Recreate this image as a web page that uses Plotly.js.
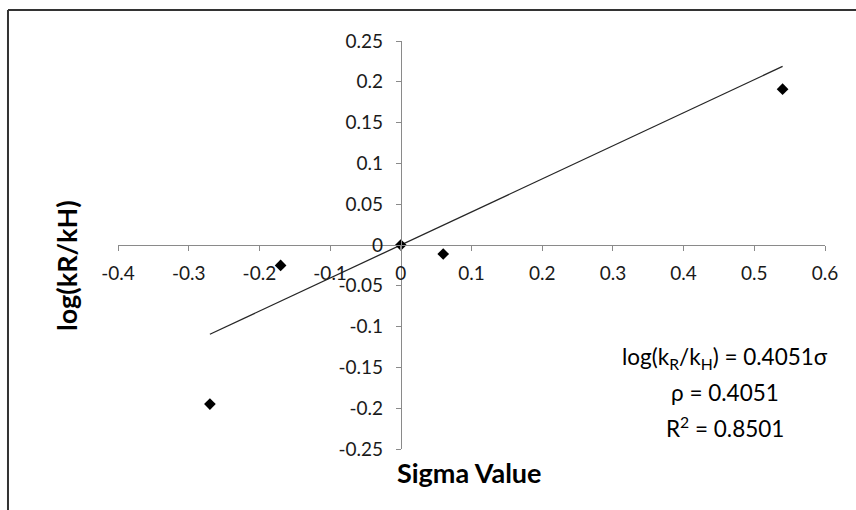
<!DOCTYPE html>
<html>
<head>
<meta charset="utf-8">
<script src="https://cdn.plot.ly/plotly-3.0.1.min.js"></script>
<style>
  html, body { margin: 0; padding: 0; background: #fff; }
  #chart { width: 856px; height: 510px; }
</style>
</head>
<body>
<div id="chart"></div>
<script>
// Data
const sigmaValues = [-0.27, -0.17, 0, 0.06, 0.54];
const logRatios   = [-0.195, -0.025, 0, -0.011, 0.191];

// Linear trendline (log(kR/kH) = 0.4051 sigma), drawn between its end points
const trendX = [-0.27, 0.54];
const trendY = [-0.1094, 0.2188];

// Tick values and labels
const xTickVals = [-0.4, -0.3, -0.2, -0.1, 0, 0.1, 0.2, 0.3, 0.4, 0.5, 0.6];
const xTickText = ["-0.4", "-0.3", "-0.2", "-0.1", "0", "0.1", "0.2", "0.3", "0.4", "0.5", "0.6"];
const yTickVals = [-0.25, -0.2, -0.15, -0.1, -0.05, 0, 0.05, 0.1, 0.15, 0.2, 0.25];
const yTickText = ["-0.25", "-0.2", "-0.15", "-0.1", "-0.05", "0", "0.05", "0.1", "0.15", "0.2", "0.25"];

// Texts
const xTitle = "Sigma Value";
const yTitle = "log(kR/kH)";
const eqLines = [
  "log(k<sub>R</sub>/k<sub>H</sub>) = 0.4051σ",
  "ρ = 0.4051",
  "R<sup>2</sup> = 0.8501"
];

const FONT = "Lato, 'Open Sans', sans-serif";
const AXIS_COLOR = "#8a8a8a";

const traces = [
  {
    x: trendX, y: trendY, type: "scatter", mode: "lines",
    line: { color: "#262626", width: 1.3 }, hoverinfo: "skip", showlegend: false
  },
  {
    x: sigmaValues, y: logRatios, type: "scatter", mode: "markers",
    marker: { symbol: "diamond", size: 9, color: "#000" }, showlegend: false
  }
];

const axisCommon = {
  showgrid: false, zeroline: false, showline: true,
  linecolor: AXIS_COLOR, linewidth: 1,
  ticks: "outside", ticklen: 5, tickcolor: AXIS_COLOR, tickwidth: 1,
  tickfont: { family: FONT, size: 19, color: "#1a1a1a" },
  tickmode: "array", fixedrange: true
};

const layout = {
  width: 856, height: 510,
  margin: { l: 118, r: 31, t: 41, b: 61 },
  paper_bgcolor: "#fff", plot_bgcolor: "#fff",
  showlegend: false,
  xaxis: Object.assign({}, axisCommon, {
    range: [-0.4, 0.6], tickvals: xTickVals, ticktext: xTickText,
    anchor: "free", position: 0.5, domain: [0, 1], ticklabelstandoff: 6
  }),
  yaxis: Object.assign({}, axisCommon, {
    range: [-0.25, 0.25], tickvals: yTickVals, ticktext: yTickText,
    anchor: "free", position: 0.4, domain: [0, 1], ticklabelstandoff: 9
  }),
  annotations: [
    { xref: "paper", yref: "paper", x: 0.4965, y: -0.0588, text: "<b>" + xTitle + "</b>",
      showarrow: false, xanchor: "center", yanchor: "middle",
      font: { family: FONT, size: 27, color: "#000" } },
    { xref: "paper", yref: "paper", x: -0.0735, y: 0.4485, text: "<b>" + yTitle + "</b>",
      showarrow: false, xanchor: "center", yanchor: "middle", textangle: -90,
      font: { family: FONT, size: 27, color: "#000" } },
    { xref: "x", yref: "y", x: 0.458, y: -0.1385, text: eqLines[0], showarrow: false,
      xanchor: "center", yanchor: "middle", font: { family: FONT, size: 22.5, color: "#000" } },
    { xref: "x", yref: "y", x: 0.458, y: -0.181, text: eqLines[1], showarrow: false,
      xanchor: "center", yanchor: "middle", font: { family: FONT, size: 22.5, color: "#000" } },
    { xref: "x", yref: "y", x: 0.458, y: -0.223, text: eqLines[2], showarrow: false,
      xanchor: "center", yanchor: "middle", font: { family: FONT, size: 22.5, color: "#000" } }
  ],
  shapes: [
    // chart frame (top and left edges of the Excel chart area)
    { type: "line", xref: "paper", yref: "paper", x0: -0.1556, x1: 1.1, y0: 1.076, y1: 1.076,
      line: { color: "#333", width: 2 } },
    { type: "line", xref: "paper", yref: "paper", x0: -0.1556, x1: -0.1556, y0: -0.2, y1: 1.076,
      line: { color: "#333", width: 2 } }
  ],
  hovermode: false
};

Plotly.newPlot("chart", traces, layout, { displayModeBar: false, staticPlot: true });
</script>
</body>
</html>
